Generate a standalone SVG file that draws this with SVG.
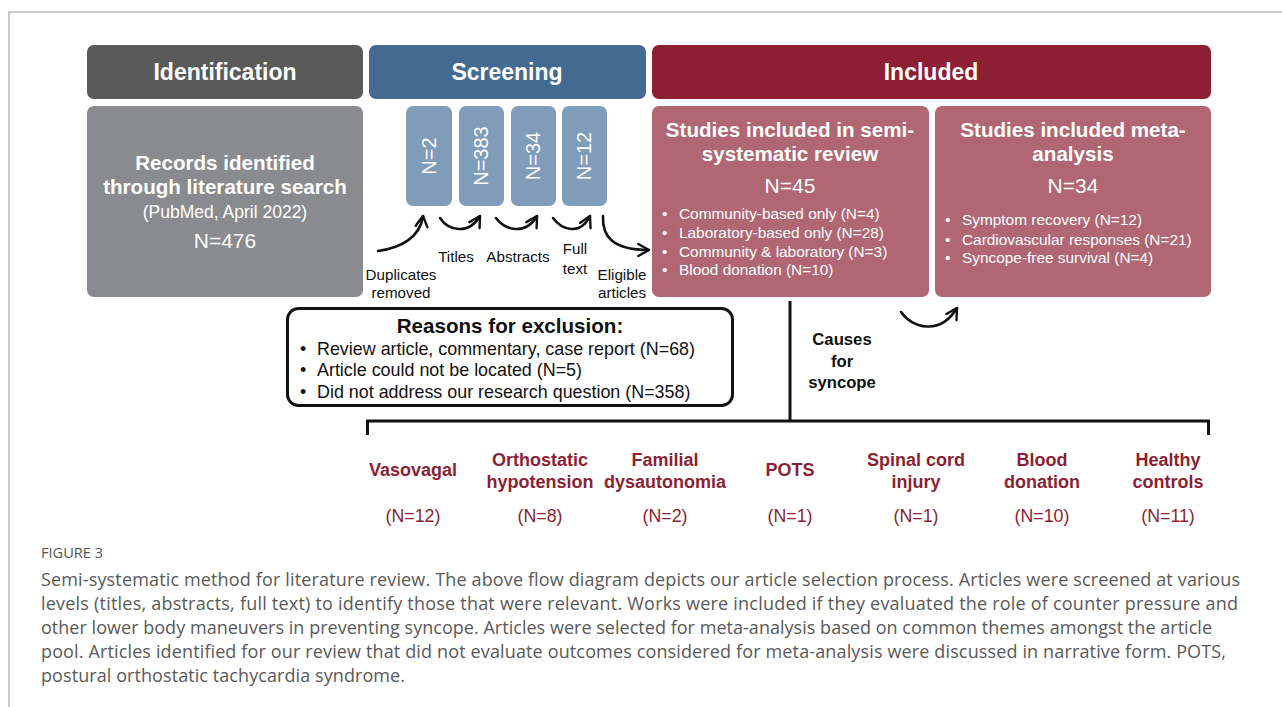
<svg xmlns="http://www.w3.org/2000/svg" width="1282" height="707" viewBox="0 0 1282 707">
  <style>
    .frame { stroke: #b9b9b9; stroke-width: 1.5; fill: none; }
    .hdr { font-family: "Liberation Sans", Arial, sans-serif; font-weight: bold; font-size: 23px; fill: #ffffff; text-anchor: middle; }
    .wb { font-family: "Liberation Sans", Arial, sans-serif; font-weight: bold; font-size: 20.6px; fill: #ffffff; text-anchor: middle; }
    .wn { font-family: "Liberation Sans", Arial, sans-serif; font-size: 21px; fill: #ffffff; text-anchor: middle; }
    .ws { font-family: "Liberation Sans", Arial, sans-serif; font-size: 17.5px; fill: #ffffff; }
    .wl { font-family: "Liberation Sans", Arial, sans-serif; font-size: 15.4px; fill: #ffffff; }
    .vt { font-family: "Liberation Sans", Arial, sans-serif; font-size: 20px; fill: #ffffff; text-anchor: middle; }
    .lbl { font-family: "Liberation Sans", Arial, sans-serif; font-size: 15.2px; fill: #111111; text-anchor: middle; }
    .kb { font-family: "Liberation Sans", Arial, sans-serif; font-weight: bold; font-size: 20.6px; fill: #111111; text-anchor: middle; }
    .kn { font-family: "Liberation Sans", Arial, sans-serif; font-size: 17.9px; fill: #111111; }
    .cs { font-family: "Liberation Sans", Arial, sans-serif; font-weight: bold; font-size: 16.7px; fill: #111111; text-anchor: middle; }
    .cat { font-family: "Liberation Sans", Arial, sans-serif; font-weight: bold; font-size: 18px; fill: #8c1f33; text-anchor: middle; }
    .catn { font-family: "Liberation Sans", Arial, sans-serif; font-size: 17.8px; fill: #8c1f33; text-anchor: middle; }
    .fig { font-family: "Open Sans", "Liberation Sans", sans-serif; font-size: 14.6px; fill: #555555; }
    .cap { font-family: "Open Sans", "Liberation Sans", sans-serif; font-size: 18px; fill: #595959; }
    .arr { stroke: #111111; stroke-width: 2.6; fill: none; stroke-linecap: round; }
    .line { stroke: #111111; stroke-width: 3; fill: none; }
  </style>
  <defs>
    <marker id="head" viewBox="0 0 12 12" refX="10" refY="6" markerWidth="5.5" markerHeight="5.5" orient="auto" markerUnits="strokeWidth">
      <path d="M1,1 L10,6 L1,11" fill="none" stroke="#111111" stroke-width="2" stroke-linecap="round" stroke-linejoin="round"/>
    </marker>
  </defs>

  <!-- page frame -->
  <path class="frame" d="M9,707 V12 H1282"/>

  <!-- phase headers -->
  <g id="hdr-identification">
    <rect x="87" y="45" width="276" height="54" rx="7" fill="#5a5a5a"/>
    <text class="hdr" x="225" y="80">Identification</text>
  </g>
  <g id="hdr-screening">
    <rect x="369" y="45" width="277" height="54" rx="7" fill="#436a91"/>
    <text class="hdr" x="507" y="80">Screening</text>
  </g>
  <g id="hdr-included">
    <rect x="652" y="45" width="559" height="54" rx="7" fill="#8c1f33"/>
    <text class="hdr" x="931" y="80">Included</text>
  </g>

  <!-- identification box -->
  <g id="records">
    <rect x="87" y="106" width="276" height="191" rx="7" fill="#8a8b8e"/>
    <text class="wb" x="225" y="170">Records identified</text>
    <text class="wb" x="225" y="194">through literature search</text>
    <text class="ws" x="225" y="218" text-anchor="middle">(PubMed, April 2022)</text>
    <text class="wn" x="225" y="248">N=476</text>
  </g>

  <!-- screening counts -->
  <g id="n-duplicates">
    <rect x="406" y="106" width="46" height="100" rx="7" fill="#7f9cb9"/>
    <text class="vt" transform="translate(436,156) rotate(-90)">N=2</text>
  </g>
  <g id="n-titles">
    <rect x="459" y="106" width="45" height="100" rx="7" fill="#7f9cb9"/>
    <text class="vt" transform="translate(488,156) rotate(-90)">N=383</text>
  </g>
  <g id="n-abstracts">
    <rect x="511" y="106" width="45" height="100" rx="7" fill="#7f9cb9"/>
    <text class="vt" transform="translate(540,156) rotate(-90)">N=34</text>
  </g>
  <g id="n-fulltext">
    <rect x="562" y="106" width="45" height="100" rx="7" fill="#7f9cb9"/>
    <text class="vt" transform="translate(591,156) rotate(-90)">N=12</text>
  </g>

  <!-- screening step labels -->
  <g id="screen-labels">
    <text class="lbl" x="401" y="280">Duplicates</text>
    <text class="lbl" x="401" y="298">removed</text>
    <text class="lbl" x="456" y="262">Titles</text>
    <text class="lbl" x="518" y="262">Abstracts</text>
    <text class="lbl" x="575" y="254">Full</text>
    <text class="lbl" x="575" y="274">text</text>
    <text class="lbl" x="622" y="280">Eligible</text>
    <text class="lbl" x="622" y="298">articles</text>
  </g>

  <!-- included boxes -->
  <g id="semi-systematic">
    <rect x="652" y="106" width="277" height="191" rx="7" fill="#b06773"/>
    <text class="wb" x="790" y="137">Studies included in semi-</text>
    <text class="wb" x="790" y="161">systematic review</text>
    <text class="wn" x="790" y="193">N=45</text>
    <g class="wl">
      <text x="662" y="219">•</text><text x="679" y="219">Community-based only (N=4)</text>
      <text x="662" y="238">•</text><text x="679" y="238">Laboratory-based only (N=28)</text>
      <text x="662" y="257">•</text><text x="679" y="257">Community &amp; laboratory (N=3)</text>
      <text x="662" y="275">•</text><text x="679" y="275">Blood donation (N=10)</text>
    </g>
  </g>
  <g id="meta-analysis">
    <rect x="935" y="106" width="276" height="191" rx="7" fill="#b06773"/>
    <text class="wb" x="1073" y="137">Studies included meta-</text>
    <text class="wb" x="1073" y="161">analysis</text>
    <text class="wn" x="1073" y="193">N=34</text>
    <g class="wl">
      <text x="945" y="225">•</text><text x="962" y="225">Symptom recovery (N=12)</text>
      <text x="945" y="245">•</text><text x="962" y="245">Cardiovascular responses (N=21)</text>
      <text x="945" y="263">•</text><text x="962" y="263">Syncope-free survival (N=4)</text>
    </g>
  </g>

  <!-- exclusion reasons -->
  <g id="exclusions">
    <rect x="287.5" y="308.5" width="445" height="97" rx="11" fill="#ffffff" stroke="#111111" stroke-width="3"/>
    <text class="kb" x="510" y="333">Reasons for exclusion:</text>
    <text class="kn" x="300" y="355">•</text><text class="kn" x="317" y="355">Review article, commentary, case report (N=68)</text>
    <text class="kn" x="300" y="376">•</text><text class="kn" x="317" y="376">Article could not be located (N=5)</text>
    <text class="kn" x="300" y="398">•</text><text class="kn" x="317" y="398">Did not address our research question (N=358)</text>
  </g>

  <!-- syncope causes heading -->
  <g id="causes">
    <text class="cs" x="842" y="345">Causes</text>
    <text class="cs" x="842" y="367">for</text>
    <text class="cs" x="842" y="388">syncope</text>
  </g>

  <!-- connectors -->
  <g id="connectors">
    <path class="arr" d="M378,251 C400,248 420,238 423,216" marker-end="url(#head)"/>
    <path class="arr" d="M440,218 C448,230 468,236 480,216" marker-end="url(#head)"/>
    <path class="arr" d="M496,218 C505,230 525,236 537,216" marker-end="url(#head)"/>
    <path class="arr" d="M553,218 C562,230 580,236 590,216" marker-end="url(#head)"/>
    <path class="arr" d="M603,216 C602,236 612,250 649,250" marker-end="url(#head)"/>
    <path class="arr" d="M901,312 C912,328 940,336 957,308" marker-end="url(#head)"/>
    <path class="line" d="M790,301 V421"/>
    <path class="line" d="M367.5,435 V421 H1208.5 V435"/>
  </g>

  <!-- syncope categories -->
  <g id="cat-vasovagal">
    <text class="cat" x="413" y="476">Vasovagal</text>
    <text class="catn" x="413" y="522">(N=12)</text>
  </g>
  <g id="cat-orthostatic">
    <text class="cat" x="540" y="466">Orthostatic</text>
    <text class="cat" x="540" y="488">hypotension</text>
    <text class="catn" x="540" y="522">(N=8)</text>
  </g>
  <g id="cat-familial">
    <text class="cat" x="665" y="466">Familial</text>
    <text class="cat" x="665" y="488">dysautonomia</text>
    <text class="catn" x="665" y="522">(N=2)</text>
  </g>
  <g id="cat-pots">
    <text class="cat" x="790" y="476">POTS</text>
    <text class="catn" x="790" y="522">(N=1)</text>
  </g>
  <g id="cat-spinal">
    <text class="cat" x="916" y="466">Spinal cord</text>
    <text class="cat" x="916" y="488">injury</text>
    <text class="catn" x="916" y="522">(N=1)</text>
  </g>
  <g id="cat-blood">
    <text class="cat" x="1042" y="466">Blood</text>
    <text class="cat" x="1042" y="488">donation</text>
    <text class="catn" x="1042" y="522">(N=10)</text>
  </g>
  <g id="cat-healthy">
    <text class="cat" x="1168" y="466">Healthy</text>
    <text class="cat" x="1168" y="488">controls</text>
    <text class="catn" x="1168" y="522">(N=11)</text>
  </g>

  <!-- figure caption -->
  <g id="caption">
    <text class="fig" x="41" y="558">FIGURE 3</text>
    <text class="cap" x="41" y="586" textLength="1199" lengthAdjust="spacing">Semi-systematic method for literature review. The above flow diagram depicts our article selection process. Articles were screened at various</text>
    <text class="cap" x="41" y="610" textLength="1197" lengthAdjust="spacing">levels (titles, abstracts, full text) to identify those that were relevant. Works were included if they evaluated the role of counter pressure and</text>
    <text class="cap" x="41" y="634" textLength="1171" lengthAdjust="spacing">other lower body maneuvers in preventing syncope. Articles were selected for meta-analysis based on common themes amongst the article</text>
    <text class="cap" x="41" y="658" textLength="1185" lengthAdjust="spacing">pool. Articles identified for our review that did not evaluate outcomes considered for meta-analysis were discussed in narrative form. POTS,</text>
    <text class="cap" x="41" y="682" textLength="364" lengthAdjust="spacing">postural orthostatic tachycardia syndrome.</text>
  </g>
</svg>
